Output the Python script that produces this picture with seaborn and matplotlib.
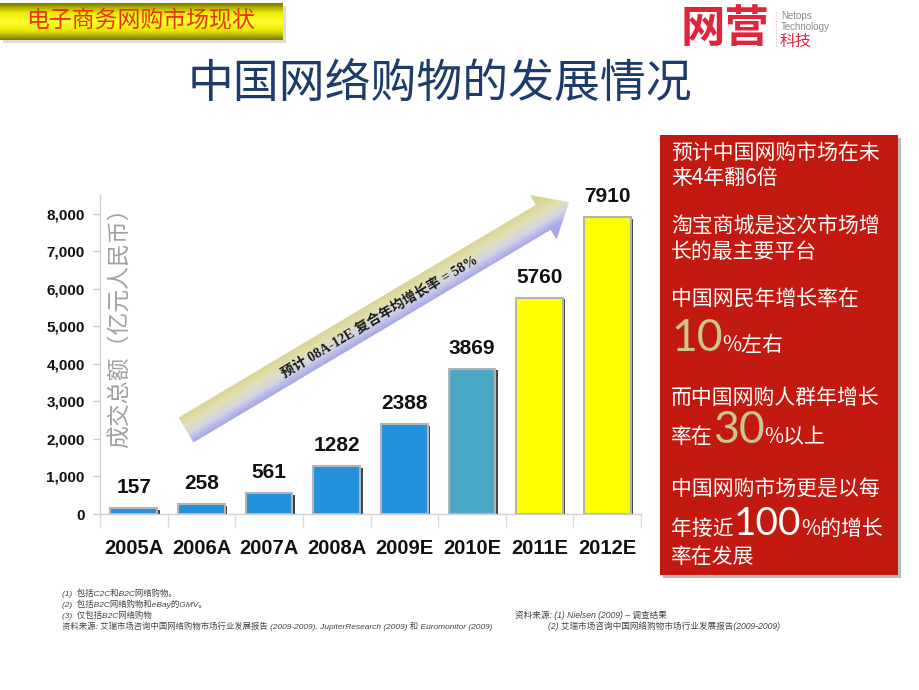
import numpy as np
import pandas as pd
import matplotlib
matplotlib.use("Agg")
import matplotlib.pyplot as plt
import seaborn as sns
from matplotlib.patches import Polygon, Rectangle
import matplotlib.patheffects as pe
from matplotlib.colors import LinearSegmentedColormap
from matplotlib import font_manager

# ---------------- data ----------------
categories = ["2005A", "2006A", "2007A", "2008A", "2009E", "2010E", "2011E", "2012E"]
values = [157, 258, 561, 1282, 2388, 3869, 5760, 7910]
bar_colors = ["#2391dc", "#2391dc", "#2391dc", "#2391dc", "#2391dc", "#4aaac6", "#ffff00", "#ffff00"]
yticks = [0, 1000, 2000, 3000, 4000, 5000, 6000, 7000, 8000]

title = "中国网络购物的发展情况"
banner = "电子商务网购市场现状"
ylabel = "成交总额（亿元人民币）"
arrow_text = "预计 08A-12E 复合年均增长率 = 58%"
footnotes = [
    "(1)  包括C2C和B2C网络购物。",
    "(2)  包括B2C网络购物和eBay的GMV。",
    "(3)  仅包括B2C网络购物",
    "资料来源: 艾瑞市场咨询中国网络购物市场行业发展报告 (2009-2009), JupiterResearch (2009) 和 Euromonitor (2009)",
]
sources_right = [
    "资料来源: (1) Nielsen (2009) – 调查结果",
    "(2) 艾瑞市场咨询中国网络购物市场行业发展报告(2009-2009)",
]

sns.set_theme(style="white")
plt.rcParams["font.family"] = ["Liberation Sans", "Noto Sans CJK SC", "DejaVu Sans"]
CJK = ["Noto Sans CJK SC", "DejaVu Sans"]
names = {f.name for f in font_manager.fontManager.ttflist}
NARROW = "Liberation Sans Narrow" if "Liberation Sans Narrow" in names else "Liberation Sans"
xt_size = 16 if NARROW == "Liberation Sans Narrow" else 14.5

W, H = 920, 690
fig = plt.figure(figsize=(W / 100, H / 100), dpi=100)
fig.patch.set_facecolor("white")

# ---------------- bar chart ----------------
ax = fig.add_axes([100 / W, 1 - 514 / H, (641 - 100) / W, (514 - 195) / H])
df = pd.DataFrame({"year": categories, "value": values})
sns.barplot(data=df, x="year", y="value", hue="year",
            palette=dict(zip(categories, bar_colors)), legend=False,
            width=0.69, saturation=1, edgecolor="#b4b4b4", linewidth=1.5, ax=ax)
for p in ax.patches:
    p.set_path_effects([pe.SimplePatchShadow(offset=(1.8, -1.2), shadow_rgbFace="#303030", alpha=0.9),
                        pe.Normal()])
for c in ax.containers:
    ax.bar_label(c, fmt="{:.0f}", padding=8, fontsize=15, fontweight="bold", color="#111111")

ax.set_xlim(-0.46, 7.5)
ax.set_ylim(0, 8500)
ax.set_yticks(yticks)
ax.set_yticklabels([f"{v:,}" for v in yticks], fontsize=11, fontweight="bold", color="#111111")
ax.tick_params(axis="y", left=True, length=5, width=1, color="#cccccc", pad=6)
ax.tick_params(axis="x", which="major", length=0, pad=18)
for lbl in ax.get_xticklabels():
    lbl.set_fontweight("bold")
    lbl.set_color("#111111")
    lbl.set_fontsize(xt_size)
    lbl.set_family([NARROW, "DejaVu Sans"])
ax.set_xticks(np.arange(-0.5, 8, 1), minor=True)
ax.tick_params(axis="x", which="minor", bottom=True, length=10, width=1, color="#dddddd")
ax.set_xlabel("")
ax.set_ylabel("")
for s in ["top", "right"]:
    ax.spines[s].set_visible(False)
for s in ["left", "bottom"]:
    ax.spines[s].set_color("#d0d0d0")
    ax.spines[s].set_linewidth(1)
ax.set_facecolor("none")

# ---------------- overlay (decorations in pixel coords) ----------------
ov = fig.add_axes([0, 0, 1, 1], zorder=5)
ov.patch.set_alpha(0)
ov.axis("off")

# banner
ov.add_patch(Rectangle((3, 6), 283, 37, facecolor="#dcdcdc", edgecolor="none", zorder=1))
bcmap = LinearSegmentedColormap.from_list("ban", ["#7c7c00", "#e8e800", "#ffff30", "#e8e800", "#7c7c00"])
ov.imshow(np.linspace(0, 1, 64).reshape(-1, 1), extent=(0, 283, 40, 3), aspect="auto",
          cmap=bcmap, zorder=2)
ov.text(141, 21, banner, color="#e8340c", fontsize=16.5, ha="center", va="center", family=CJK, zorder=3)

# logo
ov.text(681, 29, "网营", color="#e0243c", fontsize=32, fontweight="bold", ha="left", va="center", family=CJK)
ov.plot([776, 776], [12, 46], color="#f0b0b8", lw=0.8, ls=":")
ov.text(781, 16, "Netops", color="#8a8a8a", fontsize=7, ha="left", va="center")
ov.text(781, 27, "Technology", color="#8a8a8a", fontsize=7, ha="left", va="center")
ov.text(780, 41, "科技", color="#e0243c", fontsize=11.5, ha="left", va="center", family=CJK)

# title
ov.text(440, 84, title, color="#1d3c6c", fontsize=33, ha="center", va="center", family=CJK)

# y label
ov.text(120, 322, ylabel, rotation=90, ha="center", va="center", fontsize=16.5,
        color="#a0a0a0", family=CJK, fontweight="light")

# arrow with gradient
T = np.array([186.0, 430.0])
P = np.array([569.0, 202.0])
d = P - T
L = np.hypot(*d)
u = d / L
n = np.array([u[1], -u[0]])  # points up-left
hw, hhw, hl = 14.5, 26.0, 30.0
Hh = P - u * hl
pts = [T + n * hw, Hh + n * hw, Hh + n * hhw, P, Hh - n * hhw, Hh - n * hw, T - n * hw]
poly = Polygon(pts, closed=True, facecolor="none", edgecolor="none", zorder=3)
ov.add_patch(poly)
xs = np.array([p[0] for p in pts]); ys = np.array([p[1] for p in pts])
x0, x1, y0, y1 = xs.min(), xs.max(), ys.min(), ys.max()
gx, gy = np.meshgrid(np.linspace(x0, x1, 300), np.linspace(y0, y1, 200))
val = ((gx - T[0]) * n[0] + (gy - T[1]) * n[1]) / (2 * hw) + 0.5
acmap = LinearSegmentedColormap.from_list("arr", ["#a6a6ec", "#d4d4e6", "#e2e0b4", "#d8d490"])
im = ov.imshow(np.clip(val, 0, 1), extent=(x0, x1, y1, y0), aspect="auto", cmap=acmap,
               vmin=0, vmax=1, zorder=2)
im.set_clip_path(poly)
ang = np.degrees(np.arctan2(-d[1], d[0]))
mid = T + d * 0.505
ov.text(mid[0], mid[1] + 2, arrow_text, rotation=ang, rotation_mode="anchor", ha="center", va="center",
        fontsize=10, fontweight="bold", color="#1a1a1a",
        family=["Liberation Serif", "Noto Sans CJK SC", "DejaVu Sans"], zorder=4)

# red panel
ov.add_patch(Rectangle((663, 138), 238, 440, facecolor="#8a8a8a", alpha=0.6, edgecolor="none", zorder=1))
ov.add_patch(Rectangle((660, 135), 238, 440, facecolor="#c21a10", edgecolor="none", zorder=2))

renderer = fig.canvas.get_renderer()
ov.set_xlim(0, W)
ov.set_ylim(H, 0)


def mixed(x, y, parts):
    for s, fs, col, fam in parts:
        t = ov.text(x, y, s, fontsize=fs, color=col, family=fam, ha="left", va="baseline", zorder=4)
        bb = t.get_window_extent(renderer)
        x += bb.width


NUMF = ["Lato", "DejaVu Sans"]
px = 671
plain_lines = [
    (153, "预计中国网购市场在未"),
    (178, "来4年翻6倍"),
    (227, "淘宝商城是这次市场增"),
    (252, "长的最主要平台"),
    (300, "中国网民年增长率在"),
    (398, "而中国网购人群年增长"),
    (490, "中国网购市场更是以每"),
    (557, "率在发展"),
]
for yy, s in plain_lines:
    ov.text(px, yy, s, fontsize=15, color="white", family=CJK, ha="left", va="center", zorder=4)
mixed(px, 351, [("10", 32, "#cbc58e", NUMF), ("%左右", 15, "white", CJK)])
mixed(px, 443, [("率在", 15, "white", CJK), ("30", 32, "#cbc58e", NUMF), ("%以上", 15, "white", CJK)])
mixed(px, 535, [("年接近", 15, "white", CJK), ("100", 28, "white", NUMF), ("%的增长", 15, "white", CJK)])

# footnotes
FN = ["Liberation Sans", "Noto Sans CJK SC", "DejaVu Sans"]
for i, s in enumerate(footnotes):
    ov.text(62, [593, 604, 615, 626][i], s, fontsize=6.0, color="#444444", style="italic",
            family=FN, ha="left", va="center")
ov.text(515, 615, sources_right[0], fontsize=6.2, color="#444444", style="italic",
        family=FN, ha="left", va="center")
ov.text(548, 626, sources_right[1], fontsize=6.2, color="#444444", style="italic",
        family=FN, ha="left", va="center")

ov.set_xlim(0, W)
ov.set_ylim(H, 0)
fig.savefig("out.png", dpi=100)
